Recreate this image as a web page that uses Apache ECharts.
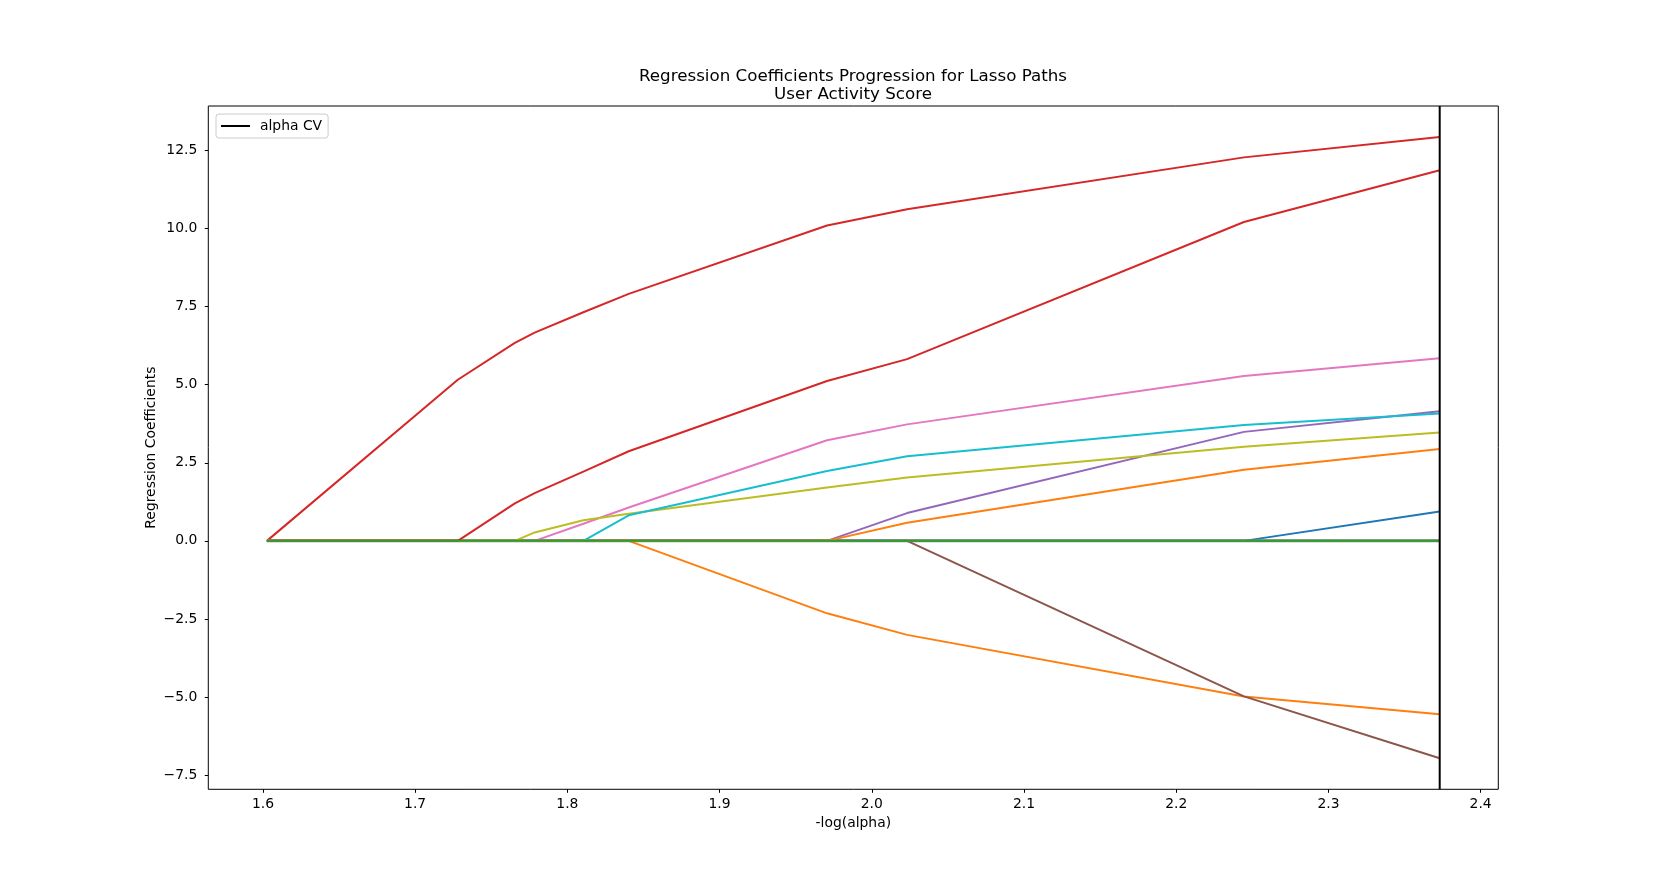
<!DOCTYPE html>
<html>
<head>
<meta charset="utf-8">
<script src="https://cdn.jsdelivr.net/npm/echarts@6/dist/echarts.min.js"></script>
<style>
  html, body { margin: 0; padding: 0; background: #fff; }
  #main { width: 1664px; height: 886px; }
</style>
</head>
<body>
<div id="main"></div>
<script>
// -log(alpha) knots of the lasso path
var alphas = [1.6026, 1.7280, 1.7655, 1.7785, 1.8105, 1.8403, 1.9706, 2.0232, 2.2445, 2.3731];

// coefficients per feature at each knot
var coefBlue      = [0, 0, 0, 0, 0, 0, 0, 0, 0, 0.94];
var coefOrangeNeg = [0, 0, 0, 0, 0, 0, -2.32, -3.01, -4.98, -5.55];
var coefRedTop    = [0, 5.16, 6.34, 6.67, 7.32, 7.91, 10.10, 10.62, 12.28, 12.93];
var coefPurple    = [0, 0, 0, 0, 0, 0, 0, 0.89, 3.49, 4.15];
var coefBrown     = [0, 0, 0, 0, 0, 0, 0, 0, -4.98, -6.96];
var coefPink      = [0, 0, 0, 0, 0.55, 1.07, 3.22, 3.73, 5.28, 5.85];
var coefGray      = [0, 0, 0, 0, 0, 0, 0, 0, 0, 0];
var coefOlive     = [0, 0, 0, 0.27, 0.66, 0.87, 1.71, 2.03, 3.01, 3.47];
var coefCyan      = [0, 0, 0, 0, 0, 0.82, 2.24, 2.71, 3.71, 4.08];
var coefOrangePos = [0, 0, 0, 0, 0, 0, 0, 0.58, 2.28, 2.94];
var coefRedLow    = [0, 0, 1.20, 1.53, 2.22, 2.87, 5.12, 5.82, 10.21, 11.87];
var coefGreen     = [0, 0, 0, 0, 0, 0, 0, 0, 0, 0];

var alphaCV = 2.3731;
var xTicks = [1.6, 1.7, 1.8, 1.9, 2.0, 2.1, 2.2, 2.3, 2.4];
var yTicks = [-7.5, -5.0, -2.5, 0.0, 2.5, 5.0, 7.5, 10.0, 12.5];
var xMin = 1.5641, xMax = 2.4116;
var yMin = -7.955, yMax = 13.925;

var FONT = 'DejaVu Sans';

function pairs(vals) {
  return alphas.map(function (a, i) { return [a, vals[i]]; });
}

function path(name, vals, color, width) {
  return {
    name: name,
    type: 'line',
    data: pairs(vals),
    showSymbol: false,
    symbol: 'none',
    silent: true,
    itemStyle: { color: color },
    lineStyle: { color: color, width: width || 2 },
    z: 2
  };
}

var series = [
  path('f0', coefBlue, '#1f77b4'),
  path('f1', coefOrangeNeg, '#ff7f0e'),
  path('f3', coefRedTop, '#d62728'),
  path('f4', coefPurple, '#9467bd'),
  path('f5', coefBrown, '#8c564b'),
  path('f6', coefPink, '#e377c2'),
  path('f7', coefGray, '#7f7f7f', 3),
  path('f8', coefOlive, '#bcbd22'),
  path('f9', coefCyan, '#17becf'),
  path('f11', coefOrangePos, '#ff7f0e'),
  path('f13', coefRedLow, '#d62728'),
  path('f12', coefGreen, '#2ca02c'),
  {
    name: 'alpha CV',
    type: 'line',
    data: [[alphaCV, yMin], [alphaCV, yMax]],
    showSymbol: false,
    symbol: 'none',
    silent: true,
    itemStyle: { color: '#000' },
    lineStyle: { color: '#000', width: 2 },
    z: 3
  }
];

function fmt(v) {
  return v.toFixed(1).replace('-', '\u2212');
}

var chart = echarts.init(document.getElementById('main'), null, { renderer: 'canvas' });
chart.setOption({
  animation: false,
  backgroundColor: '#fff',
  title: {
    text: 'Regression Coefficients Progression for Lasso Paths\nUser Activity Score',
    left: 848,
    top: 63,
    textAlign: 'center',
    textStyle: { fontFamily: FONT, fontSize: 16.7, fontWeight: 'normal', color: '#000', lineHeight: 17.5 }
  },
  legend: {
    data: [{ name: 'alpha CV', icon: 'rect' }],
    left: 216,
    top: 114,
    itemWidth: 29,
    itemHeight: 2,
    padding: [5, 6, 5, 5],
    backgroundColor: 'rgba(255,255,255,0.8)',
    borderColor: '#cccccc',
    borderWidth: 1,
    borderRadius: 3,
    textStyle: { fontFamily: FONT, fontSize: 13.9, color: '#000', padding: [0, 0, 0, 5] }
  },
  grid: {
    left: 208.3,
    right: 165.7,
    top: 106,
    bottom: 96.7,
    show: true,
    borderColor: '#000',
    borderWidth: 1,
    backgroundColor: 'transparent'
  },
  xAxis: {
    type: 'value',
    min: xMin,
    max: xMax,
    name: '-log(alpha)',
    nameLocation: 'middle',
    nameGap: 27,
    nameMoveOverlap: false,
    nameTextStyle: { fontFamily: FONT, fontSize: 13.9, color: '#000' },
    axisLine: { show: false, onZero: false },
    splitLine: { show: false },
    axisTick: { show: true, length: 3.5, customValues: xTicks, lineStyle: { color: '#000', width: 1 } },
    axisLabel: {
      customValues: xTicks,
      margin: 8,
      fontFamily: FONT, fontSize: 13.9, color: '#000',
      formatter: function (v) { return fmt(v); }
    }
  },
  yAxis: {
    type: 'value',
    min: yMin,
    max: yMax,
    name: 'Regression Coefficients',
    nameLocation: 'middle',
    nameGap: 50,
    nameMoveOverlap: false,
    nameTextStyle: { fontFamily: FONT, fontSize: 13.9, color: '#000' },
    axisLine: { show: false, onZero: false },
    splitLine: { show: false },
    axisTick: { show: true, length: 3.5, customValues: yTicks, lineStyle: { color: '#000', width: 1 } },
    axisLabel: {
      customValues: yTicks,
      margin: 11,
      fontFamily: FONT, fontSize: 13.9, color: '#000',
      formatter: function (v) { return fmt(v); }
    }
  },
  series: series
});
</script>
</body>
</html>
